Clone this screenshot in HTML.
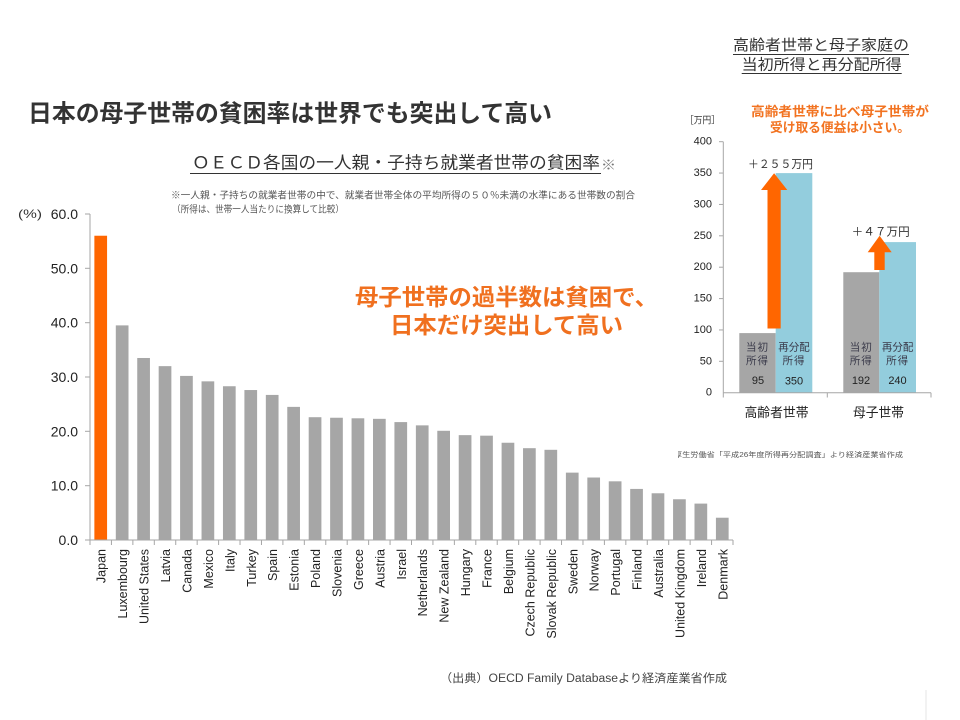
<!DOCTYPE html>
<html>
<head>
<meta charset="utf-8">
<style>
  html,body{margin:0;padding:0;background:#fff;}
  svg{display:block;}
  text{font-family:"Liberation Sans","Noto Sans CJK JP",sans-serif;}
  .jp{font-family:"Liberation Sans","Noto Sans CJK JP",sans-serif;}
</style>
</head>
<body>
<svg width="960" height="720" viewBox="0 0 960 720" xmlns="http://www.w3.org/2000/svg">
  <defs>
    <clipPath id="noteclip"><rect x="678" y="440" width="260" height="30"/></clipPath>
  </defs>
  <rect x="0" y="0" width="960" height="720" fill="#fff"/>

  <!-- Main title -->
  <text class="jp" x="28" y="114" dominant-baseline="central" font-size="24" font-weight="bold" fill="#333" textLength="524" lengthAdjust="spacingAndGlyphs">日本の母子世帯の貧困率は世界でも突出して高い</text>

  <!-- Subtitle -->
  <text class="jp" x="192" y="163" dominant-baseline="central" font-size="17" fill="#333" textLength="408" lengthAdjust="spacingAndGlyphs">ＯＥＣＤ各国の一人親・子持ち就業者世帯の貧困率</text>
  <line x1="190" y1="173.5" x2="601" y2="173.5" stroke="#333" stroke-width="1"/>
  <text class="jp" x="601" y="165" dominant-baseline="central" font-size="13" fill="#777" textLength="15" lengthAdjust="spacingAndGlyphs">※</text>

  <!-- Notes -->
  <text class="jp" x="171" y="196" dominant-baseline="central" font-size="9.5" fill="#555" textLength="464" lengthAdjust="spacingAndGlyphs">※一人親・子持ちの就業者世帯の中で、就業者世帯全体の平均所得の５０％未満の水準にある世帯数の割合</text>
  <text class="jp" x="172" y="210" dominant-baseline="central" font-size="9.5" fill="#555" textLength="172" lengthAdjust="spacingAndGlyphs">（所得は、世帯一人当たりに換算して比較）</text>

  <!-- Y axis main -->
  <text class="jp" x="18" y="214" dominant-baseline="central" font-size="12" fill="#333" textLength="24" lengthAdjust="spacingAndGlyphs">(%)</text>
  <g font-size="14" fill="#222" text-anchor="end" dominant-baseline="central">
    <text x="78" y="214">60.0</text>
    <text x="78" y="268.3">50.0</text>
    <text x="78" y="322.7">40.0</text>
    <text x="78" y="377">30.0</text>
    <text x="78" y="431.3">20.0</text>
    <text x="78" y="485.7">10.0</text>
    <text x="78" y="540">0.0</text>
  </g>
  <g stroke="#A6A6A6" stroke-width="1">
    <line x1="90" y1="214" x2="90" y2="540"/>
    <line x1="85" y1="214" x2="90" y2="214"/>
    <line x1="85" y1="268.3" x2="90" y2="268.3"/>
    <line x1="85" y1="322.7" x2="90" y2="322.7"/>
    <line x1="85" y1="377" x2="90" y2="377"/>
    <line x1="85" y1="431.3" x2="90" y2="431.3"/>
    <line x1="85" y1="485.7" x2="90" y2="485.7"/>
    <line x1="85" y1="540" x2="90" y2="540"/>
  </g>

  <!-- Bars -->
  <rect x="94.37" y="235.73" width="12.7" height="304.27" fill="#FF6600"/>
  <g fill="#A6A6A6">
    <rect x="115.80" y="325.38" width="12.7" height="214.62"/>
    <rect x="137.24" y="357.98" width="12.7" height="182.02"/>
    <rect x="158.67" y="366.13" width="12.7" height="173.87"/>
    <rect x="180.10" y="375.91" width="12.7" height="164.09"/>
    <rect x="201.54" y="381.35" width="12.7" height="158.65"/>
    <rect x="222.97" y="386.24" width="12.7" height="153.76"/>
    <rect x="244.40" y="390.04" width="12.7" height="149.96"/>
    <rect x="265.84" y="394.93" width="12.7" height="145.07"/>
    <rect x="287.27" y="406.88" width="12.7" height="133.12"/>
    <rect x="308.70" y="417.21" width="12.7" height="122.79"/>
    <rect x="330.13" y="417.75" width="12.7" height="122.25"/>
    <rect x="351.57" y="418.29" width="12.7" height="121.71"/>
    <rect x="373.00" y="418.84" width="12.7" height="121.16"/>
    <rect x="394.43" y="422.10" width="12.7" height="117.90"/>
    <rect x="415.87" y="425.36" width="12.7" height="114.64"/>
    <rect x="437.30" y="430.79" width="12.7" height="109.21"/>
    <rect x="458.73" y="435.14" width="12.7" height="104.86"/>
    <rect x="480.17" y="435.68" width="12.7" height="104.32"/>
    <rect x="501.60" y="442.74" width="12.7" height="97.26"/>
    <rect x="523.03" y="448.18" width="12.7" height="91.82"/>
    <rect x="544.47" y="449.81" width="12.7" height="90.19"/>
    <rect x="565.90" y="472.63" width="12.7" height="67.37"/>
    <rect x="587.33" y="477.52" width="12.7" height="62.48"/>
    <rect x="608.77" y="481.32" width="12.7" height="58.68"/>
    <rect x="630.20" y="488.93" width="12.7" height="51.07"/>
    <rect x="651.63" y="493.27" width="12.7" height="46.73"/>
    <rect x="673.07" y="499.25" width="12.7" height="40.75"/>
    <rect x="694.50" y="503.60" width="12.7" height="36.40"/>
    <rect x="715.93" y="517.72" width="12.7" height="22.28"/>
  </g>

  <!-- X axis -->
  <g stroke="#A6A6A6" stroke-width="1">
    <line x1="90" y1="540" x2="733" y2="540"/>
    <line x1="90" y1="540" x2="90" y2="545"/>
    <line x1="111.43" y1="540" x2="111.43" y2="545"/>
    <line x1="132.87" y1="540" x2="132.87" y2="545"/>
    <line x1="154.30" y1="540" x2="154.30" y2="545"/>
    <line x1="175.73" y1="540" x2="175.73" y2="545"/>
    <line x1="197.17" y1="540" x2="197.17" y2="545"/>
    <line x1="218.60" y1="540" x2="218.60" y2="545"/>
    <line x1="240.03" y1="540" x2="240.03" y2="545"/>
    <line x1="261.47" y1="540" x2="261.47" y2="545"/>
    <line x1="282.90" y1="540" x2="282.90" y2="545"/>
    <line x1="304.33" y1="540" x2="304.33" y2="545"/>
    <line x1="325.77" y1="540" x2="325.77" y2="545"/>
    <line x1="347.20" y1="540" x2="347.20" y2="545"/>
    <line x1="368.63" y1="540" x2="368.63" y2="545"/>
    <line x1="390.07" y1="540" x2="390.07" y2="545"/>
    <line x1="411.50" y1="540" x2="411.50" y2="545"/>
    <line x1="432.93" y1="540" x2="432.93" y2="545"/>
    <line x1="454.37" y1="540" x2="454.37" y2="545"/>
    <line x1="475.80" y1="540" x2="475.80" y2="545"/>
    <line x1="497.23" y1="540" x2="497.23" y2="545"/>
    <line x1="518.67" y1="540" x2="518.67" y2="545"/>
    <line x1="540.10" y1="540" x2="540.10" y2="545"/>
    <line x1="561.53" y1="540" x2="561.53" y2="545"/>
    <line x1="582.97" y1="540" x2="582.97" y2="545"/>
    <line x1="604.40" y1="540" x2="604.40" y2="545"/>
    <line x1="625.83" y1="540" x2="625.83" y2="545"/>
    <line x1="647.27" y1="540" x2="647.27" y2="545"/>
    <line x1="668.70" y1="540" x2="668.70" y2="545"/>
    <line x1="690.13" y1="540" x2="690.13" y2="545"/>
    <line x1="711.57" y1="540" x2="711.57" y2="545"/>
    <line x1="733" y1="540" x2="733" y2="545"/>
  </g>

  <!-- X labels -->
  <g font-size="12.5" fill="#222" text-anchor="end" dominant-baseline="central">
    <text transform="translate(101.7,549) rotate(-90)">Japan</text>
    <text transform="translate(123.1,549) rotate(-90)">Luxembourg</text>
    <text transform="translate(144.6,549) rotate(-90)">United States</text>
    <text transform="translate(166.0,549) rotate(-90)">Latvia</text>
    <text transform="translate(187.5,549) rotate(-90)">Canada</text>
    <text transform="translate(208.9,549) rotate(-90)">Mexico</text>
    <text transform="translate(230.3,549) rotate(-90)">Italy</text>
    <text transform="translate(251.8,549) rotate(-90)">Turkey</text>
    <text transform="translate(273.2,549) rotate(-90)">Spain</text>
    <text transform="translate(294.6,549) rotate(-90)">Estonia</text>
    <text transform="translate(316.1,549) rotate(-90)">Poland</text>
    <text transform="translate(337.5,549) rotate(-90)">Slovenia</text>
    <text transform="translate(358.9,549) rotate(-90)">Greece</text>
    <text transform="translate(380.4,549) rotate(-90)">Austria</text>
    <text transform="translate(401.8,549) rotate(-90)">Israel</text>
    <text transform="translate(423.2,549) rotate(-90)">Netherlands</text>
    <text transform="translate(444.7,549) rotate(-90)">New Zealand</text>
    <text transform="translate(466.1,549) rotate(-90)">Hungary</text>
    <text transform="translate(487.5,549) rotate(-90)">France</text>
    <text transform="translate(509.0,549) rotate(-90)">Belgium</text>
    <text transform="translate(530.4,549) rotate(-90)">Czech Republic</text>
    <text transform="translate(551.8,549) rotate(-90)">Slovak Republic</text>
    <text transform="translate(573.3,549) rotate(-90)">Sweden</text>
    <text transform="translate(594.7,549) rotate(-90)">Norway</text>
    <text transform="translate(616.1,549) rotate(-90)">Portugal</text>
    <text transform="translate(637.6,549) rotate(-90)">Finland</text>
    <text transform="translate(659.0,549) rotate(-90)">Australia</text>
    <text transform="translate(680.4,549) rotate(-90)">United Kingdom</text>
    <text transform="translate(701.9,549) rotate(-90)">Ireland</text>
    <text transform="translate(723.3,549) rotate(-90)">Denmark</text>
  </g>

  <!-- Orange callout -->
  <text class="jp" x="355" y="297" dominant-baseline="central" font-size="23" font-weight="bold" fill="#F0701F" textLength="303" lengthAdjust="spacingAndGlyphs">母子世帯の過半数は貧困で、</text>
  <text class="jp" x="390" y="325" dominant-baseline="central" font-size="23" font-weight="bold" fill="#F0701F" textLength="233" lengthAdjust="spacingAndGlyphs">日本だけ突出して高い</text>

  <!-- Source -->
  <text class="jp" x="440" y="679" dominant-baseline="central" font-size="11.5" fill="#444" textLength="287" lengthAdjust="spacingAndGlyphs">（出典）OECD Family Databaseより経済産業省作成</text>
  <line x1="926" y1="690" x2="926" y2="720" stroke="#e6e6e6" stroke-width="1"/>

  <!-- ===== Right chart ===== -->
  <text class="jp" x="733" y="45.7" dominant-baseline="central" font-size="15" fill="#333" textLength="176" lengthAdjust="spacingAndGlyphs">高齢者世帯と母子家庭の</text>
  <line x1="733" y1="54.5" x2="909" y2="54.5" stroke="#333" stroke-width="1"/>
  <text class="jp" x="741.7" y="65" dominant-baseline="central" font-size="15" fill="#333" textLength="160" lengthAdjust="spacingAndGlyphs">当初所得と再分配所得</text>
  <line x1="741.7" y1="73.5" x2="901.7" y2="73.5" stroke="#333" stroke-width="1"/>

  <text class="jp" x="751" y="111.7" dominant-baseline="central" font-size="13" font-weight="bold" fill="#F27321" textLength="178" lengthAdjust="spacingAndGlyphs">高齢者世帯に比べ母子世帯が</text>
  <text class="jp" x="770" y="127.3" dominant-baseline="central" font-size="13" font-weight="bold" fill="#F27321" textLength="140" lengthAdjust="spacingAndGlyphs">受け取る便益は小さい。</text>

  <text class="jp" x="685" y="121" dominant-baseline="central" font-size="9.5" fill="#333" textLength="35" lengthAdjust="spacingAndGlyphs">［万円］</text>

  <g font-size="11" fill="#222" text-anchor="end" dominant-baseline="central">
    <text x="712" y="141.7">400</text>
    <text x="712" y="173.05">350</text>
    <text x="712" y="204.45">300</text>
    <text x="712" y="235.8">250</text>
    <text x="712" y="267.2">200</text>
    <text x="712" y="298.6">150</text>
    <text x="712" y="329.95">100</text>
    <text x="712" y="361.3">50</text>
    <text x="712" y="392.7">0</text>
  </g>
  <g stroke="#A6A6A6" stroke-width="1">
    <line x1="723.3" y1="141.7" x2="723.3" y2="392.7"/>
    <line x1="719" y1="141.7" x2="723.3" y2="141.7"/>
    <line x1="719" y1="173.05" x2="723.3" y2="173.05"/>
    <line x1="719" y1="204.45" x2="723.3" y2="204.45"/>
    <line x1="719" y1="235.8" x2="723.3" y2="235.8"/>
    <line x1="719" y1="267.2" x2="723.3" y2="267.2"/>
    <line x1="719" y1="298.6" x2="723.3" y2="298.6"/>
    <line x1="719" y1="329.95" x2="723.3" y2="329.95"/>
    <line x1="719" y1="361.3" x2="723.3" y2="361.3"/>
  </g>

  <!-- Right bars -->
  <rect x="739.3" y="333.1" width="36.4" height="59.6" fill="#A6A6A6"/>
  <rect x="775.7" y="173.1" width="36.6" height="219.6" fill="#93CDDD"/>
  <rect x="843.3" y="272.2" width="36" height="120.5" fill="#A6A6A6"/>
  <rect x="879.3" y="242.1" width="36.7" height="150.6" fill="#93CDDD"/>

  <g stroke="#A6A6A6" stroke-width="1">
    <line x1="723.3" y1="392.7" x2="931" y2="392.7"/>
    <line x1="827.3" y1="392.7" x2="827.3" y2="397.5"/>
    <line x1="931" y1="392.7" x2="931" y2="397.5"/>
    <line x1="723.3" y1="392.7" x2="723.3" y2="397.5"/>
  </g>

  <!-- Arrows -->
  <polygon points="767.5,328.5 780.7,328.5 780.7,190 787.3,190 774.1,173.3 761,190 767.5,190" fill="#FF6600"/>
  <polygon points="874.3,270 884.7,270 884.7,252.3 891.7,252.3 879.6,235.7 867.7,252.3 874.3,252.3" fill="#FF6600"/>

  <text class="jp" x="748" y="165" dominant-baseline="central" font-size="11.5" fill="#333" textLength="65" lengthAdjust="spacingAndGlyphs">＋２５５万円</text>
  <text class="jp" x="851.7" y="232.7" dominant-baseline="central" font-size="11.5" fill="#333" textLength="58" lengthAdjust="spacingAndGlyphs">＋４７万円</text>

  <!-- Inside labels -->
  <g class="jp" font-size="10.5" fill="#3a3a4a" text-anchor="middle" dominant-baseline="central">
    <text x="757.5" y="347.7" letter-spacing="1">当初</text>
    <text x="757.5" y="361" letter-spacing="1">所得</text>
    <text x="794" y="347.7">再分配</text>
    <text x="794" y="361" letter-spacing="1">所得</text>
    <text x="861.3" y="347.7" letter-spacing="1">当初</text>
    <text x="861.3" y="361" letter-spacing="1">所得</text>
    <text x="897.6" y="347.7">再分配</text>
    <text x="897.6" y="361" letter-spacing="1">所得</text>
  </g>
  <g font-size="11" fill="#222" text-anchor="middle" dominant-baseline="central">
    <text x="758" y="381">95</text>
    <text x="794" y="381.5">350</text>
    <text x="861" y="381">192</text>
    <text x="897.5" y="381">240</text>
  </g>

  <text class="jp" x="776.5" y="412.5" text-anchor="middle" dominant-baseline="central" font-size="13" fill="#222" textLength="64" lengthAdjust="spacingAndGlyphs">高齢者世帯</text>
  <text class="jp" x="878.5" y="412.5" text-anchor="middle" dominant-baseline="central" font-size="13" fill="#222" textLength="51" lengthAdjust="spacingAndGlyphs">母子世帯</text>

  <g clip-path="url(#noteclip)">
    <text class="jp" x="674" y="455.7" dominant-baseline="central" font-size="7" fill="#555" textLength="229" lengthAdjust="spacingAndGlyphs">厚生労働省「平成26年度所得再分配調査」より経済産業省作成</text>
  </g>
</svg>
</body>
</html>
